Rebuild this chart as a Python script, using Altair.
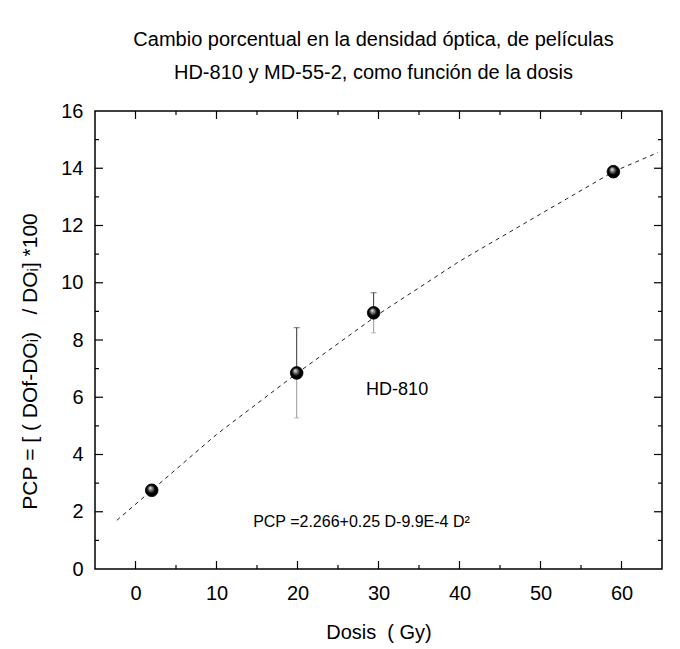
import altair as alt
import pandas as pd

# Data
dose = [2.0, 19.9, 29.4, 59.0]
pcp = [2.75, 6.85, 8.95, 13.88]
err_lo = [2.55, 5.28, 8.25, None]
err_hi = [2.95, 8.43, 9.65, None]

fit_dose = [-2.3, 2, 10, 20, 30, 40, 50, 59, 64.5]
fit_pcp = [1.70, 2.75, 4.70, 6.85, 8.90, 10.75, 12.40, 13.88, 14.55]

x_major = [0, 10, 20, 30, 40, 50, 60]
x_minor = [5, 15, 25, 35, 45, 55]
y_major = [2, 4, 6, 8, 10, 12, 14]
y_minor = [1, 3, 5, 7, 9, 11, 13, 15]

ann_text = ["HD-810", "PCP =2.266+0.25 D-9.9E-4 D²"]
ann_x = [32.3, 27.9]
ann_y = [6.26, 1.64]

W, H = 567, 458
FONT = "Liberation Sans"
NB = "\u00a0"

pts = pd.DataFrame({"d": dose, "p": pcp, "lo": err_lo, "hi": err_hi})
err = pts.dropna()
fit = pd.DataFrame({"d": fit_dose, "p": fit_pcp})

xs = alt.Scale(domain=[-5, 65], nice=False, zero=False)
ys = alt.Scale(domain=[0, 16], nice=False, zero=False)

xax = alt.Axis(values=x_major, title=f"Dosis{NB}{NB}({NB}Gy)", labelFontSize=20, titleFontSize=20,
               labelPadding=14, titlePadding=19, ticks=False, domain=False, grid=False,
               labelFont=FONT, titleFont=FONT, titleFontWeight="normal",
               labelColor="black", titleColor="black")
ytitle = f"PCP{NB}={NB}[{NB}({NB}DOf-DOᵢ){NB}{NB}{NB}/{NB}DOᵢ]{NB}*100"
yax = alt.Axis(values=[0, 2, 4, 6, 8, 10, 12, 14, 16],
               title=ytitle, labelFontSize=20, titleFontSize=21,
               labelPadding=12, ticks=False, domain=False, grid=False,
               labelFont=FONT, titleFont=FONT, titleFontWeight="normal",
               labelColor="black", titleColor="black", titleX=-65, titleY=250,
               titleAngle=270, titleAlign="center", titleBaseline="middle")

base = alt.Chart(pts)

curve = alt.Chart(fit).mark_line(color="#222", strokeWidth=1, strokeDash=[4, 4], clip=True).encode(
    x=alt.X("d:Q", scale=xs, axis=xax),
    y=alt.Y("p:Q", scale=ys, axis=yax),
)

err_up = alt.Chart(err).mark_rule(color="#333", strokeWidth=1).encode(
    x=alt.X("d:Q", scale=xs), y=alt.Y("p:Q", scale=ys), y2="hi:Q")
err_dn = alt.Chart(err).mark_rule(color="#999", strokeWidth=1).encode(
    x=alt.X("d:Q", scale=xs), y=alt.Y("lo:Q", scale=ys), y2="p:Q")
cap_hi = alt.Chart(err).mark_tick(color="#333", thickness=1, size=6, orient="horizontal").encode(
    x=alt.X("d:Q", scale=xs), y=alt.Y("hi:Q", scale=ys))
cap_lo = alt.Chart(err).mark_tick(color="#999", thickness=1, size=5, orient="horizontal").encode(
    x=alt.X("d:Q", scale=xs), y=alt.Y("lo:Q", scale=ys))

sphere = base.mark_circle(
    size=160, opacity=1, stroke="black", strokeWidth=0.8,
    color=alt.Gradient(
        gradient="radial",
        stops=[alt.GradientStop(color="white", offset=0),
               alt.GradientStop(color="#888", offset=0.25),
               alt.GradientStop(color="black", offset=0.6)],
        x1=0.38, y1=0.3, r1=0, x2=0.5, y2=0.5, r2=0.55),
).encode(x=alt.X("d:Q", scale=xs), y=alt.Y("p:Q", scale=ys))

ann = pd.DataFrame({"t": ann_text, "x": ann_x, "y": ann_y})
text_hd = alt.Chart(ann.iloc[[0]]).mark_text(font=FONT, fontSize=18, color="black").encode(
    x=alt.X("x:Q", scale=xs), y=alt.Y("y:Q", scale=ys), text="t:N")
text_eq = alt.Chart(ann.iloc[[1]]).mark_text(font=FONT, fontSize=16, color="black").encode(
    x=alt.X("x:Q", scale=xs), y=alt.Y("y:Q", scale=ys), text="t:N")

# inward tick marks on all four sides
xmaj = pd.DataFrame({"v": x_major})
xmin = pd.DataFrame({"v": x_minor})
ymaj = pd.DataFrame({"v": y_major})
ymin = pd.DataFrame({"v": y_minor})

def xticks(df, length):
    bot = alt.Chart(df).mark_rule(color="black", strokeWidth=1.2).encode(
        x=alt.X("v:Q", scale=xs), y=alt.value(H), y2=alt.value(H - length))
    top = alt.Chart(df).mark_rule(color="black", strokeWidth=1.2).encode(
        x=alt.X("v:Q", scale=xs), y=alt.value(0), y2=alt.value(length))
    return bot + top

def yticks(df, length):
    left = alt.Chart(df).mark_rule(color="black", strokeWidth=1.2).encode(
        y=alt.Y("v:Q", scale=ys), x=alt.value(0), x2=alt.value(length))
    right = alt.Chart(df).mark_rule(color="black", strokeWidth=1.2).encode(
        y=alt.Y("v:Q", scale=ys), x=alt.value(W), x2=alt.value(W - length))
    return left + right

chart = alt.layer(
    curve,
    xticks(xmaj, 8), xticks(xmin, 4), yticks(ymaj, 8), yticks(ymin, 4),
    err_dn, err_up, cap_lo, cap_hi, sphere, text_hd, text_eq,
).properties(
    width=W, height=H,
    title=alt.TitleParams(
        ["Cambio porcentual en la densidad óptica, de películas",
         "HD-810 y MD-55-2, como función de la dosis"],
        font=FONT, fontSize=20, fontWeight="normal", color="black",
        lineHeight=33, offset=18, anchor="middle", dx=-5),
    autosize=alt.AutoSizeParams(type="none"),
    padding={"left": 87, "top": 103, "right": 10, "bottom": 78},
).configure_view(stroke="black", strokeWidth=1.5)

chart.save("out.html", embed_options={"renderer": "svg", "actions": False})
